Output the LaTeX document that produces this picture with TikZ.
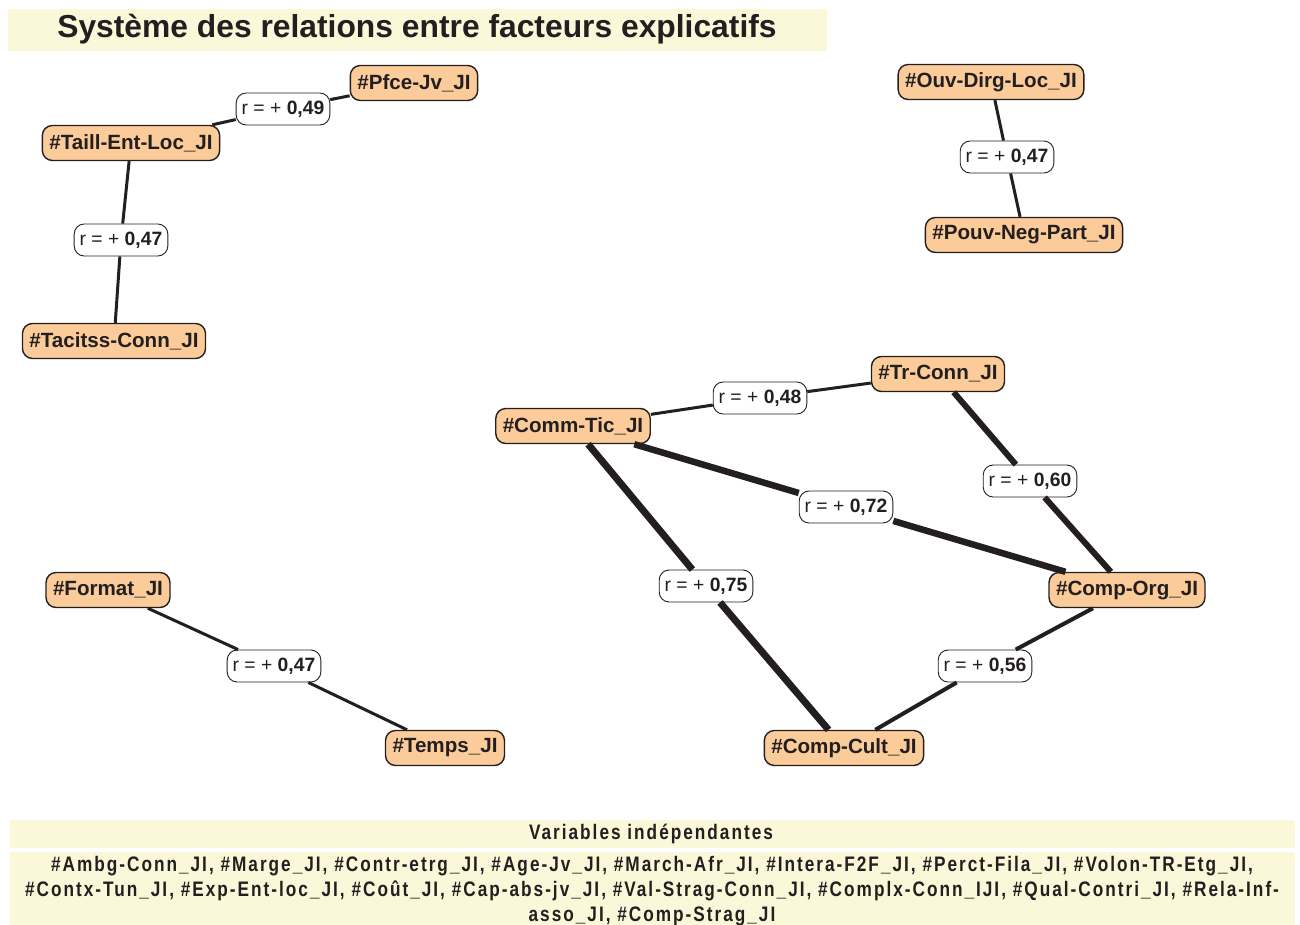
\documentclass[tikz,border=0pt]{standalone}
\usepackage{fontspec}
\setmainfont{Liberation Sans}
\newfontfamily\bandfont[FakeStretch=0.82,LetterSpace=9.5]{Liberation Sans}
\definecolor{peach}{RGB}{251,203,153}
\definecolor{band}{RGB}{250,248,216}
\definecolor{ink}{RGB}{35,31,32}
\begin{document}
\begin{tikzpicture}[x=1pt,y=-1pt,
  var/.style={draw=ink,line width=1.4pt,fill=peach,rounded corners=10pt,
    minimum height=35pt,inner xsep=7pt,font=\fontsize{20.6}{22}\selectfont\bfseries,text=ink},
  rlab/.style={draw=ink,line width=0.9pt,fill=white,rounded corners=10pt,
    minimum height=32pt,inner xsep=5.5pt,font=\fontsize{19.3}{21}\selectfont,text=ink},
  lnk/.style={draw=ink,line width=#1},
  lnk/.default=3pt]
\useasboundingbox (0,0) rectangle (1300,925);
% title
\fill[band] (8,9) rectangle (827,51);
\node[font=\fontsize{31.8}{34}\selectfont\bfseries,text=ink] (title) at (417,29) {Système des relations entre facteurs explicatifs};
% variables
\node[var] (pfce) at (414,83) {\#Pfce-Jv\_JI};
\node[var] (taill) at (131,143) {\#Taill-Ent-Loc\_JI};
\node[var] (tacit) at (114,341) {\#Tacitss-Conn\_JI};
\node[var] (ouv) at (991,82) {\#Ouv-Dirg-Loc\_JI};
\node[var] (pouv) at (1024,235) {\#Pouv-Neg-Part\_JI};
\node[var] (tr) at (938,374) {\#Tr-Conn\_JI};
\node[var] (comm) at (573,426) {\#Comm-Tic\_JI};
\node[var] (org) at (1127,590) {\#Comp-Org\_JI};
\node[var] (format) at (108,590) {\#Format\_JI};
\node[var] (temps) at (445,748) {\#Temps\_JI};
\node[var] (cult) at (844,748) {\#Comp-Cult\_JI};
% labels
\node[rlab] (l1) at (283,109) {r = + \textbf{0,49}};
\node[rlab] (l2) at (121,240) {r = + \textbf{0,47}};
\node[rlab] (l3) at (1007,157) {r = + \textbf{0,47}};
\node[rlab] (l4) at (760,398) {r = + \textbf{0,48}};
\node[rlab] (l5) at (1030,481) {r = + \textbf{0,60}};
\node[rlab] (l6) at (846,507) {r = + \textbf{0,72}};
\node[rlab] (l7) at (706,586) {r = + \textbf{0,75}};
\node[rlab] (l8) at (985,666) {r = + \textbf{0,56}};
\node[rlab] (l9) at (274,666) {r = + \textbf{0,47}};
% links
\draw[lnk] (taill) -- (l1) (l1) -- (pfce);
\draw[lnk] (taill) -- (l2) (l2) -- (tacit);
\draw[lnk] (ouv) -- (l3) (l3) -- (pouv);
\draw[lnk] (comm) -- (l4) (l4) -- (tr);
\draw[lnk=6pt] (tr) -- (l5) (l5) -- (org);
\draw[lnk=6.5pt] (comm) -- (l6) (l6) -- (org);
\draw[lnk=7pt] (comm) -- (l7) (l7) -- (cult);
\draw[lnk=4pt] (org) -- (l8) (l8) -- (cult);
\draw[lnk] (format) -- (l9) (l9) -- (temps);
% bottom bands
\fill[band] (10,820) rectangle (1295,848);
\fill[band] (10,852) rectangle (1295,925);
\begin{scope}
\clip (0,0) rectangle (1300,925);
\node[font=\bandfont\fontsize{21}{21}\selectfont\bfseries,text=ink] (vi) at (651,834) {Variables indépendantes};
\node[font=\bandfont\fontsize{21}{25}\selectfont\bfseries,text=ink,align=center,anchor=north] (vl) at (652,853)
 {\#Ambg-Conn\_JI, \#Marge\_JI, \#Contr-etrg\_JI, \#Age-Jv\_JI, \#March-Afr\_JI, \#Intera-F2F\_JI, \#Perct-Fila\_JI, \#Volon-TR-Etg\_JI,\\
  \#Contx-Tun\_JI, \#Exp-Ent-loc\_JI, \#Coût\_JI, \#Cap-abs-jv\_JI, \#Val-Strag-Conn\_JI, \#Complx-Conn\_IJI, \#Qual-Contri\_JI, \#Rela-Inf-\\
  asso\_JI, \#Comp-Strag\_JI};
\end{scope}
\end{tikzpicture}
\end{document}
